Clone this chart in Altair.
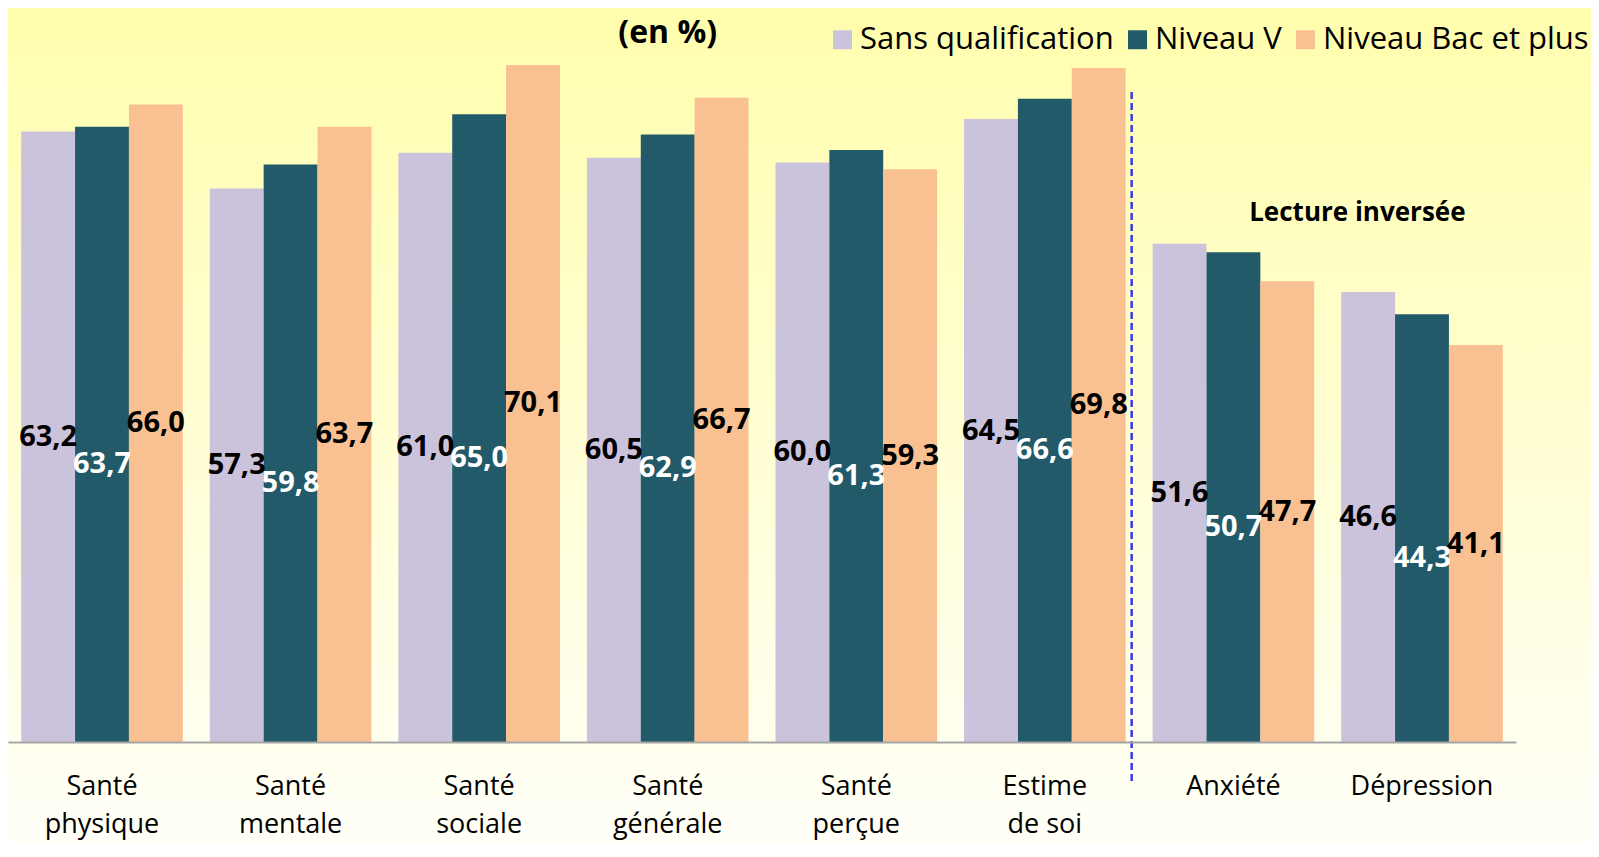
import altair as alt
import pandas as pd

categories = ["Santé physique", "Santé mentale", "Santé sociale", "Santé générale",
              "Santé perçue", "Estime de soi", "Anxiété", "Dépression"]
series = ["Sans qualification", "Niveau V", "Niveau Bac et plus"]
sans_qualification = [63.2, 57.3, 61.0, 60.5, 60.0, 64.5, 51.6, 46.6]
niveau_v = [63.7, 59.8, 65.0, 62.9, 61.3, 66.6, 50.7, 44.3]
niveau_bac = [66.0, 63.7, 70.1, 66.7, 59.3, 69.8, 47.7, 41.1]
series_colors = ["#CBC3DC", "#225A69", "#F9C092"]

rows = []
for s, vals in zip(series, [sans_qualification, niveau_v, niveau_bac]):
    for c, v in zip(categories, vals):
        rows.append({"categorie": c, "niveau": s, "valeur": v})
df = pd.DataFrame(rows)

W, H = 1508, 734
TOTAL_W, TOTAL_H = 1583, 835
FONT = "Open Sans"

x_scale = alt.Scale(domain=categories, paddingInner=0.143, paddingOuter=0.07)
y_scale = alt.Scale(domain=[0, 76], nice=False, zero=True)

x_axis = alt.Axis(
    title=None, labelAngle=0, ticks=False, domainColor="#A6A6A6", domainWidth=2,
    labelFont=FONT, labelFontSize=27, labelColor="black", labelLineHeight=38,
    labelPadding=31, labelLimit=400, zindex=2,
    labelExpr="datum.label == 'Estime de soi' ? ['Estime', 'de soi'] : split(datum.label, ' ')",
)
x_enc = alt.X("categorie:N", scale=x_scale, sort=categories, axis=x_axis)
xoff_enc = alt.XOffset("niveau:N", sort=series,
                       scale=alt.Scale(domain=series, paddingInner=0, paddingOuter=0))

one = alt.Data(values=[{}])

bg = alt.Chart(one).mark_rect(
    color=alt.Gradient(gradient="linear", x1=0, x2=0, y1=0, y2=1,
                       stops=[alt.GradientStop(offset=0, color="#FFFEAD"),
                              alt.GradientStop(offset=1, color="#FFFFF8")])
).encode(x=alt.value(0), x2=alt.value(TOTAL_W), y=alt.value(0), y2=alt.value(TOTAL_H))

bars = alt.Chart(df).mark_bar().encode(
    x=x_enc,
    xOffset=xoff_enc,
    y=alt.Y("valeur:Q", scale=y_scale, axis=None),
    color=alt.Color("niveau:N", sort=series,
                    scale=alt.Scale(domain=series, range=series_colors),
                    legend=alt.Legend(title=None, orient="none", legendX=819, legendY=16,
                                      direction="horizontal", symbolType="square",
                                      symbolSize=361, symbolStrokeWidth=0,
                                      labelFont=FONT, labelFontSize=31, labelColor="black",
                                      labelOffset=2, columnPadding=8, labelLimit=500)),
)

label_base = alt.Chart(df).transform_calculate(
    milieu="datum.valeur / 2",
    texte="replace(format(datum.valeur, '.1f'), '.', ',')",
)
label_enc = dict(
    x=x_enc,
    xOffset=xoff_enc,
    y=alt.Y("milieu:Q", scale=y_scale, axis=None),
    text="texte:N",
)
labels_dark = label_base.transform_filter("datum.niveau != 'Niveau V'").mark_text(
    font=FONT, fontSize=29, fontWeight="bold", baseline="middle", color="black"
).encode(**label_enc)
labels_light = label_base.transform_filter("datum.niveau == 'Niveau V'").mark_text(
    font=FONT, fontSize=29, fontWeight="bold", baseline="middle", color="white", dy=30
).encode(**label_enc)

sep = alt.Chart(one).mark_rule(color="#3A3AE6", strokeDash=[7, 4], strokeWidth=2.5,
                               xOffset=6).encode(
    x=alt.XDatum("Estime de soi", type="nominal", bandPosition=1),
    y=alt.YDatum(67.3),
    y2=alt.Y2Datum(-4.1),
)

title_txt = alt.Chart(one).mark_text(
    text="(en %)", font=FONT, fontSize=32, fontWeight="bold", baseline="middle", color="black"
).encode(x=alt.XDatum("Santé générale", type="nominal"), y=alt.YDatum(73.4))

lecture = alt.Chart(one).mark_text(
    text="Lecture inversée", font=FONT, fontSize=26, fontWeight="bold", baseline="middle",
    color="black"
).encode(x=alt.XDatum("Dépression", type="nominal", bandPosition=0.1), y=alt.YDatum(54.8))

chart = alt.layer(bg, bars, labels_dark, labels_light, sep, title_txt, lecture).properties(
    width=W, height=H,
    padding={"left": 0, "top": 0, "right": TOTAL_W - W, "bottom": TOTAL_H - H},
    autosize=alt.AutoSizeParams(type="none"),
).configure_view(stroke=None)

chart.save("out.html", embed_options={"renderer": "svg", "actions": False})
